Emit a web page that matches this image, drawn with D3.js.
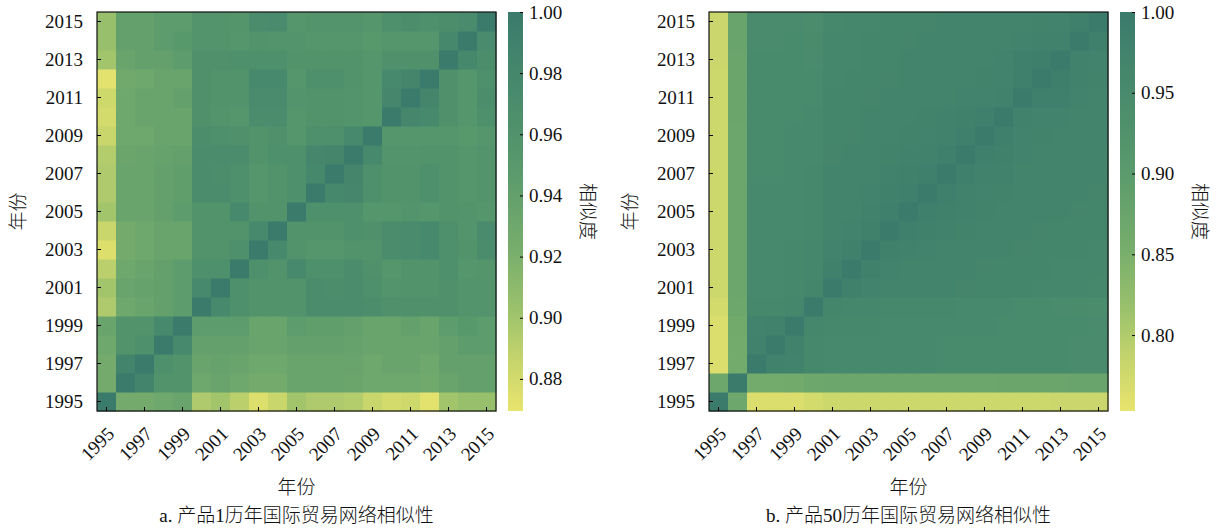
<!DOCTYPE html>
<html>
<head>
<meta charset="utf-8">
<script src="https://cdn.jsdelivr.net/npm/d3@7"></script>
<style>
  body { margin: 0; background: #fff; }
  svg text { font-family: "Liberation Serif", "Times New Roman", "Noto Sans CJK SC", serif; fill: #111; }
  svg text.cjk { font-weight: 300; }
</style>
</head>
<body>
<div id="chart"></div>
<script>
const years = d3.range(1995, 2016);
const tickYears = [1995, 1997, 1999, 2001, 2003, 2005, 2007, 2009, 2011, 2013, 2015];

// lower triangle, row = year, cols 1995..year
const simA = [
  [1.0],
  [0.925, 1.0],
  [0.925, 0.985, 1.0],
  [0.93, 0.96, 0.965, 1.0],
  [0.935, 0.96, 0.96, 0.975, 1.0],
  [0.895, 0.93, 0.935, 0.94, 0.945, 1.0],
  [0.9, 0.935, 0.937, 0.94, 0.945, 0.975, 1.0],
  [0.89, 0.93, 0.935, 0.94, 0.945, 0.965, 0.965, 1.0],
  [0.875, 0.925, 0.93, 0.935, 0.935, 0.96, 0.96, 0.965, 1.0],
  [0.885, 0.925, 0.93, 0.935, 0.935, 0.96, 0.96, 0.96, 0.975, 1.0],
  [0.9, 0.935, 0.935, 0.94, 0.945, 0.96, 0.96, 0.975, 0.96, 0.96, 1.0],
  [0.895, 0.935, 0.935, 0.94, 0.943, 0.97, 0.97, 0.965, 0.955, 0.96, 0.965, 1.0],
  [0.895, 0.935, 0.935, 0.94, 0.943, 0.97, 0.968, 0.965, 0.955, 0.96, 0.965, 0.978, 1.0],
  [0.893, 0.933, 0.935, 0.938, 0.94, 0.97, 0.97, 0.97, 0.96, 0.965, 0.965, 0.98, 0.982, 1.0],
  [0.885, 0.93, 0.93, 0.935, 0.935, 0.968, 0.965, 0.962, 0.96, 0.962, 0.955, 0.965, 0.965, 0.975, 1.0],
  [0.88, 0.93, 0.935, 0.935, 0.935, 0.962, 0.958, 0.955, 0.97, 0.97, 0.955, 0.96, 0.96, 0.958, 0.955, 1.0],
  [0.882, 0.93, 0.935, 0.935, 0.94, 0.962, 0.96, 0.96, 0.972, 0.972, 0.958, 0.96, 0.96, 0.958, 0.955, 0.98, 1.0],
  [0.872, 0.928, 0.93, 0.935, 0.935, 0.962, 0.96, 0.96, 0.975, 0.975, 0.955, 0.965, 0.965, 0.96, 0.955, 0.975, 0.982, 1.0],
  [0.9, 0.935, 0.94, 0.94, 0.945, 0.962, 0.962, 0.965, 0.965, 0.965, 0.96, 0.96, 0.96, 0.96, 0.955, 0.962, 0.962, 0.962, 1.0],
  [0.905, 0.94, 0.94, 0.945, 0.95, 0.958, 0.958, 0.955, 0.96, 0.958, 0.958, 0.955, 0.955, 0.955, 0.95, 0.955, 0.955, 0.955, 0.978, 1.0],
  [0.905, 0.94, 0.94, 0.945, 0.945, 0.958, 0.958, 0.956, 0.97, 0.972, 0.955, 0.958, 0.958, 0.958, 0.955, 0.965, 0.968, 0.965, 0.968, 0.972, 1.0]
];

const simB = [
  [1.0],
  [0.87, 1.0],
  [0.765, 0.86, 1.0],
  [0.765, 0.86, 0.978, 1.0],
  [0.765, 0.862, 0.975, 0.978, 1.0],
  [0.772, 0.87, 0.958, 0.958, 0.96, 1.0],
  [0.778, 0.872, 0.955, 0.955, 0.958, 0.965, 1.0],
  [0.778, 0.872, 0.955, 0.955, 0.958, 0.962, 0.98, 1.0],
  [0.778, 0.872, 0.955, 0.955, 0.956, 0.96, 0.975, 0.98, 1.0],
  [0.778, 0.872, 0.953, 0.953, 0.955, 0.958, 0.972, 0.975, 0.98, 1.0],
  [0.778, 0.872, 0.953, 0.953, 0.955, 0.958, 0.97, 0.972, 0.978, 0.982, 1.0],
  [0.778, 0.872, 0.953, 0.953, 0.955, 0.957, 0.968, 0.97, 0.975, 0.98, 0.983, 1.0],
  [0.778, 0.872, 0.952, 0.952, 0.954, 0.956, 0.967, 0.968, 0.972, 0.976, 0.98, 0.983, 1.0],
  [0.778, 0.872, 0.952, 0.952, 0.954, 0.955, 0.966, 0.967, 0.97, 0.973, 0.976, 0.978, 0.982, 1.0],
  [0.778, 0.872, 0.951, 0.951, 0.953, 0.955, 0.965, 0.966, 0.968, 0.97, 0.973, 0.975, 0.978, 0.982, 1.0],
  [0.778, 0.873, 0.951, 0.951, 0.952, 0.954, 0.964, 0.965, 0.967, 0.969, 0.971, 0.973, 0.976, 0.98, 0.983, 1.0],
  [0.779, 0.873, 0.95, 0.95, 0.951, 0.952, 0.963, 0.964, 0.966, 0.967, 0.969, 0.97, 0.972, 0.974, 0.975, 0.978, 1.0],
  [0.779, 0.874, 0.95, 0.95, 0.951, 0.95, 0.962, 0.963, 0.965, 0.966, 0.968, 0.969, 0.971, 0.972, 0.973, 0.975, 0.985, 1.0],
  [0.78, 0.874, 0.95, 0.95, 0.95, 0.948, 0.961, 0.962, 0.964, 0.965, 0.967, 0.968, 0.97, 0.971, 0.972, 0.974, 0.984, 0.986, 1.0],
  [0.78, 0.876, 0.949, 0.949, 0.95, 0.946, 0.96, 0.961, 0.963, 0.964, 0.966, 0.967, 0.968, 0.97, 0.971, 0.972, 0.974, 0.976, 0.977, 1.0],
  [0.78, 0.876, 0.948, 0.948, 0.949, 0.945, 0.958, 0.96, 0.962, 0.963, 0.965, 0.966, 0.967, 0.968, 0.97, 0.97, 0.972, 0.973, 0.975, 0.983, 1.0]
];

const ticksA = [0.88, 0.90, 0.92, 0.94, 0.96, 0.98, 1.00];
const ticksB = [0.80, 0.85, 0.90, 0.95, 1.00];

const width = 1219, height = 531;
const svg = d3.select('#chart').append('svg')
  .attr('width', width)
  .attr('height', height);
const defs = svg.append('defs');

// yellow -> green -> teal
const interp = d3.scaleLinear()
  .domain([0, 0.12, 0.25, 0.4, 0.6, 0.8, 1])
  .range(['#e8e46e', '#c8d66c', '#9cc26c', '#78ae6c', '#5a9a6c', '#488a6c', '#3a7b6c'])
  .interpolate(d3.interpolateRgb);

const cells = m => {
  const out = [];
  years.forEach((r, i) => years.forEach((c, j) => {
    out.push({row: r, col: c, v: j <= i ? m[i][j] : m[j][i]});
  }));
  return out;
};

const font = "Liberation Serif, Times New Roman, Noto Sans CJK SC, serif";

function panel(opt) {
  const top = 12, size = 399;
  const x = d3.scaleBand().domain(years).range([opt.left, opt.left + size]);
  const y = d3.scaleBand().domain(years).range([top + size, top]);
  const color = d3.scaleSequential(interp).domain(opt.domain);

  svg.append('g').selectAll('rect')
    .data(cells(opt.matrix))
    .enter().append('rect')
    .attr('x', d => x(d.col))
    .attr('y', d => y(d.row))
    .attr('width', x.bandwidth() + 0.5)
    .attr('height', y.bandwidth() + 0.5)
    .attr('fill', d => color(d.v));

  svg.append('rect')
    .attr('x', opt.left).attr('y', top)
    .attr('width', size).attr('height', size)
    .attr('fill', 'none').attr('stroke', '#111').attr('stroke-width', 1.2);

  const yAxis = svg.append('g')
    .attr('transform', `translate(${opt.left},0)`)
    .call(d3.axisLeft(y).tickValues(tickYears).tickSize(-4).tickPadding(14));
  yAxis.select('.domain').remove();
  yAxis.attr('font-family', font).attr('font-size', 19);

  const xAxis = svg.append('g')
    .attr('transform', `translate(0,${top + size})`)
    .call(d3.axisBottom(x).tickValues(tickYears).tickSize(-4));
  xAxis.select('.domain').remove();
  xAxis.attr('font-family', font).attr('font-size', 19);
  xAxis.selectAll('text')
    .attr('y', 0).attr('dy', 0)
    .attr('text-anchor', 'end')
    .attr('transform', 'translate(9,24) rotate(-45)');

  // colorbar
  const cbX = opt.left + size + 12, cbW = 15;
  const cb = d3.scaleLinear().domain(opt.domain).range([top + size, top]);
  const grad = defs.append('linearGradient')
    .attr('id', opt.id)
    .attr('x1', 0).attr('y1', 1).attr('x2', 0).attr('y2', 0);
  d3.range(0, 1.0001, 0.05).forEach(t => {
    grad.append('stop').attr('offset', t).attr('stop-color', interp(t));
  });
  svg.append('rect')
    .attr('x', cbX).attr('y', top)
    .attr('width', cbW).attr('height', size)
    .attr('fill', `url(#${opt.id})`);
  const cAxis = svg.append('g')
    .attr('transform', `translate(${cbX + cbW},0)`)
    .call(d3.axisRight(cb).tickValues(opt.ticks).tickSize(-3).tickPadding(6).tickFormat(d3.format('.2f')));
  cAxis.select('.domain').remove();
  cAxis.attr('font-family', font).attr('font-size', 19);

  svg.append('text')
    .attr('class', 'cjk')
    .attr('transform', `translate(${cbX + 73},${top + size / 2}) rotate(90)`)
    .attr('text-anchor', 'middle')
    .attr('font-size', 19)
    .text('相似度');

  svg.append('text')
    .attr('class', 'cjk')
    .attr('transform', `translate(${opt.left - 72},${top + size / 2}) rotate(-90)`)
    .attr('text-anchor', 'middle')
    .attr('font-size', 19)
    .text('年份');

  svg.append('text')
    .attr('class', 'cjk')
    .attr('x', opt.left + size / 2).attr('y', 494)
    .attr('text-anchor', 'middle')
    .attr('font-size', 19)
    .text('年份');

  svg.append('text')
    .attr('class', 'cjk')
    .attr('x', opt.left + size / 2).attr('y', 522)
    .attr('text-anchor', 'middle')
    .attr('font-size', 19)
    .text(opt.caption);
}

panel({id: 'gradA', left: 97, matrix: simA, domain: [0.8695, 1.0], ticks: ticksA, caption: 'a. 产品1历年国际贸易网络相似性'});
panel({id: 'gradB', left: 709, matrix: simB, domain: [0.753, 1.0], ticks: ticksB, caption: 'b. 产品50历年国际贸易网络相似性'});
</script>
</body>
</html>
